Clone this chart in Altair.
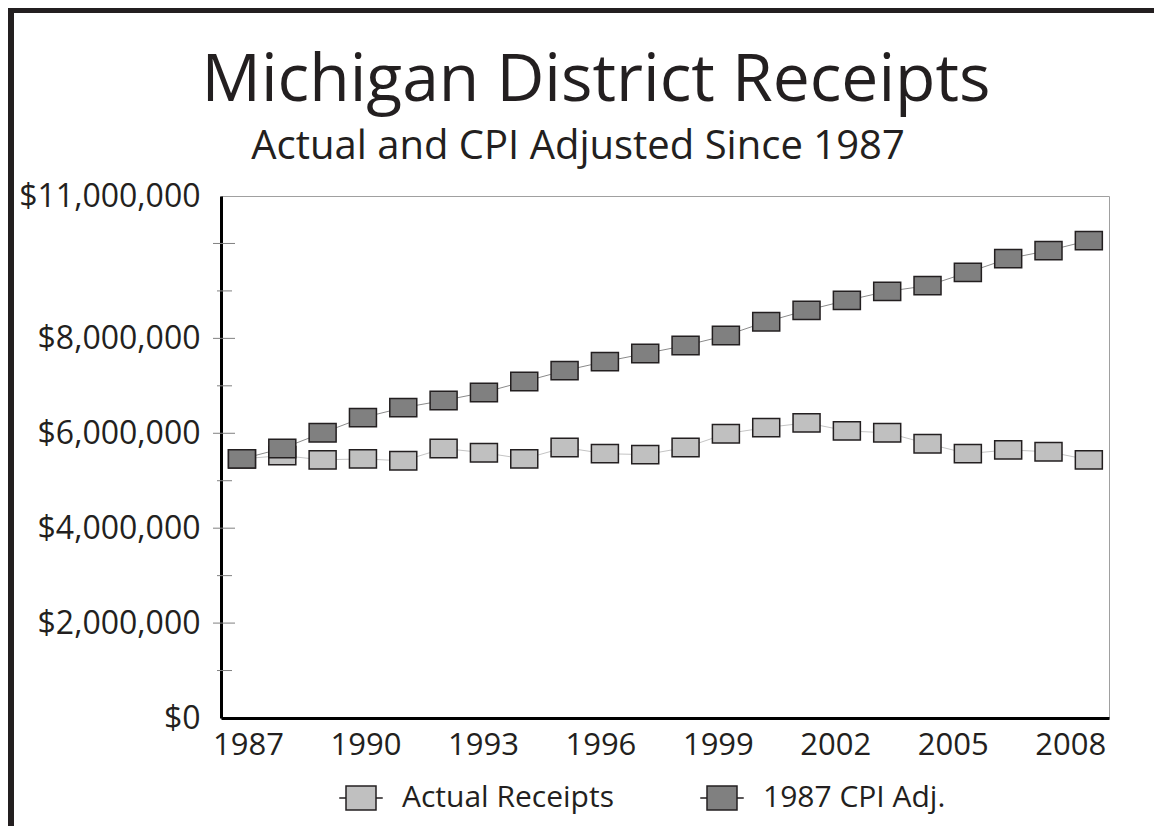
import altair as alt
import pandas as pd

# ---------------- data (values in millions of dollars) ----------------
years = list(range(1987, 2009))
actual_receipts = [5.46, 5.53, 5.44, 5.46, 5.42, 5.68, 5.59, 5.46, 5.70, 5.57, 5.55,
                   5.70, 5.99, 6.12, 6.22, 6.05, 6.01, 5.78, 5.57, 5.65, 5.61, 5.44]
cpi_adjusted = [5.46, 5.68, 6.01, 6.33, 6.54, 6.69, 6.86, 7.09, 7.32, 7.51, 7.68,
                7.85, 8.06, 8.35, 8.59, 8.80, 8.99, 9.11, 9.39, 9.68, 9.85, 10.06]
series_names = ["Actual Receipts", "1987 CPI Adj."]
series_fill = ["#c0c0c0", "#808080"]
series_line = ["#c4c4c4", "#8a8a8a"]
x_label_years = [1987, 1990, 1993, 1996, 1999, 2002, 2005, 2008]
y_label_values = [0, 2, 4, 6, 8, 11]
y_major_ticks = [2, 4, 6, 8, 10]
y_minor_ticks = [1, 3, 5, 7, 9]
title_text = "Michigan District Receipts"
subtitle_text = "Actual and CPI Adjusted Since 1987"

rows = []
for name, vals in zip(series_names, [actual_receipts, cpi_adjusted]):
    for yr, v in zip(years, vals):
        rows.append({"series": name, "year": yr, "value": v * 1e6})
df = pd.DataFrame(rows)

FONT = "Open Sans"
TXT = "#231f20"
W, H = 888, 522
RECT = "M-1,-0.68H1V0.68H-1Z"
LEG = "M-1.45,0H-1M1,0H1.45M-1,-0.8H1V0.8H-1Z"

y_scale = alt.Scale(domain=[0, 11e6], nice=False, zero=True)
x_data_scale = alt.Scale(domain=[1986.48, 2008.5], nice=False, zero=False)
y_axis = alt.Axis(values=[v * 1e6 for v in y_label_values], format="$,.0f", ticks=False,
                  domainColor="#000", domainWidth=3, labelFont=FONT, labelFontSize=32,
                  labelColor=TXT, labelPadding=21, labelLimit=300, grid=False, title=None)

def Y():
    return alt.Y("value:Q", scale=y_scale, axis=y_axis)

line_layers = []
for name, col in zip(series_names, series_line):
    line_layers.append(
        alt.Chart(df).transform_filter(alt.datum.series == name)
        .mark_line(strokeWidth=1, color=col)
        .encode(x=alt.X("year:Q", scale=x_data_scale, axis=None), y=Y())
    )

points = alt.Chart(df).mark_point(shape=RECT, size=729, filled=True, opacity=1,
                                  stroke=TXT, strokeWidth=1.5).encode(
    x=alt.X("year:Q", scale=x_data_scale, axis=None),
    y=Y(),
    fill=alt.Fill("series:N", scale=alt.Scale(domain=series_names, range=series_fill),
                  legend=alt.Legend(orient="none", legendX=124, legendY=586, direction="horizontal",
                                    title=None, labelFont=FONT, labelFontSize=30, labelColor=TXT,
                                    symbolType=LEG, symbolSize=900, symbolStrokeColor=TXT,
                                    symbolStrokeWidth=1.5, labelOffset=25, columnPadding=83,
                                    padding=0, labelLimit=400)),
)

axis_df = pd.DataFrame({"year": x_label_years})
x_axis_layer = alt.Chart(axis_df).mark_point(opacity=0).encode(
    x=alt.X("year:Q", scale=alt.Scale(domain=[1986.31, 2008.99], nice=False, zero=False),
            axis=alt.Axis(orient="bottom", values=x_label_years, format="d", ticks=False,
                          domainColor="#000", domainWidth=3, labelFont=FONT, labelFontSize=31,
                          labelColor=TXT, labelPadding=12, grid=False, title=None,
                          labelFlush=False, labelOverlap=False)),
)

major_df = pd.DataFrame({"value": [v * 1e6 for v in y_major_ticks]})
minor_df = pd.DataFrame({"value": [v * 1e6 for v in y_minor_ticks]})
major_ticks = alt.Chart(major_df).mark_rule(color="#808080", strokeWidth=1).encode(
    y=Y(), x=alt.value(-8), x2=alt.value(14))
minor_ticks = alt.Chart(minor_df).mark_rule(color="#808080", strokeWidth=1).encode(
    y=Y(), x=alt.value(-4), x2=alt.value(11))

one = pd.DataFrame({"a": [0]})
frame_left = alt.Chart(one).mark_rule(color=TXT, strokeWidth=6).encode(
    x=alt.value(-210), y=alt.value(-190), y2=alt.value(640))
frame_top = alt.Chart(one).mark_rule(color=TXT, strokeWidth=5).encode(
    y=alt.value(-185.5), x=alt.value(-213), x2=alt.value(933))

title = alt.Chart(pd.DataFrame({"t": [title_text]})).mark_text(
    font=FONT, fontSize=66, color=TXT, align="center", baseline="alphabetic").encode(
    text="t:N", x=alt.value(375), y=alt.value(-95))
subtitle = alt.Chart(pd.DataFrame({"t": [subtitle_text]})).mark_text(
    font=FONT, fontSize=40, color=TXT, align="center", baseline="alphabetic").encode(
    text="t:N", x=alt.value(357), y=alt.value(-37))

chart = alt.layer(
    major_ticks, minor_ticks, *line_layers, points, x_axis_layer,
    frame_left, frame_top, title, subtitle,
).resolve_scale(x="independent").properties(
    width=W, height=H,
    autosize=alt.AutoSizeParams(type="none"),
    padding={"left": 213, "top": 188, "right": 45, "bottom": 108},
    background="white",
).configure_view(stroke="#a0a0a0", strokeWidth=1)

chart.save("out.html", embed_options={"renderer": "svg", "actions": False})
